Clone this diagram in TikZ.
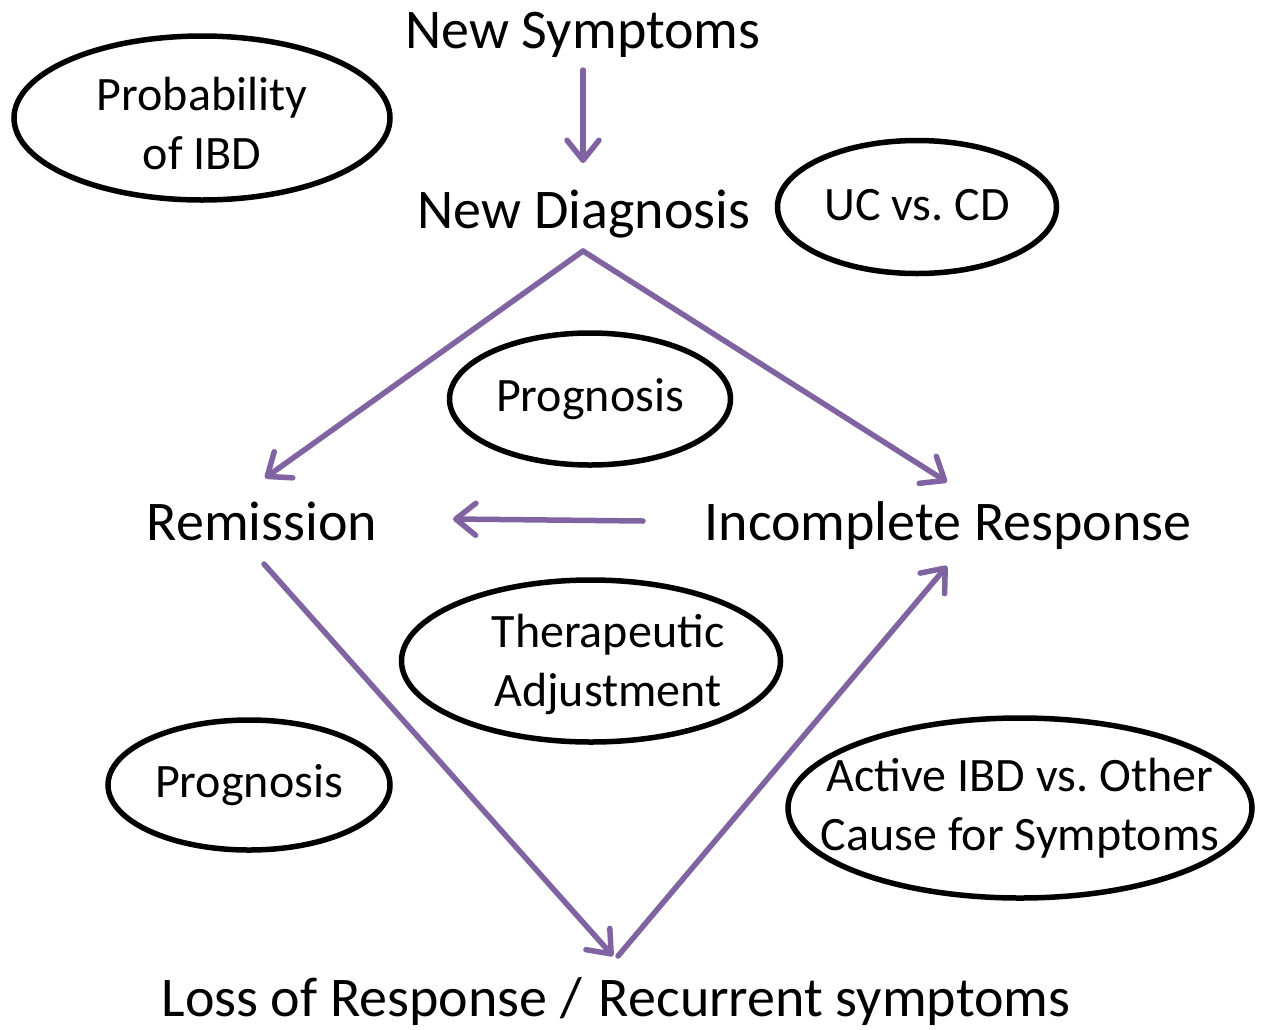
\documentclass[tikz,border=0pt]{standalone}
\usepackage{fontspec}
\setmainfont{Carlito}
\usetikzlibrary{shapes.geometric,arrows.meta}
\definecolor{flowpurple}{HTML}{8064A2}
\frenchspacing
\begin{document}
\begin{tikzpicture}[x=1pt,y=-1pt,
  bigtext/.style={inner sep=0pt,anchor=base,font=\fontsize{56}{67}\selectfont},
  oval/.style={draw=black,line width=5.5pt,ellipse,inner sep=0pt},
  ovaltext/.style={inner sep=0pt,align=center,font=\fontsize{48}{59}\selectfont},
  flow/.style={draw=flowpurple,line width=5.5pt},
  flowarrow/.style={flow,-{Straight Barb[length=20pt,width=32pt,line cap=round,line join=round]},line cap=round}
]
\useasboundingbox (0,0) rectangle (1261,1029);
\fill[white] (0,0) rectangle (1261,1029);

% main labels
\node[bigtext] (ns) at (583,48) {New Symptoms};
\node[bigtext] (nd) at (584,228) {New Diagnosis};
\node[bigtext] (rem) at (262,540) {Remission};
\node[bigtext] (inc) at (948,540) {Incomplete Response};
\node[bigtext] (loss) at (616,1016) {Loss of Response / \hspace{0.08em}Recurrent symptoms};

% ovals
\node[oval,minimum width=376pt,minimum height=164pt,
  label={[ovaltext,yshift=-5pt]center:{Probability\\of IBD}}] (prob) at (202,118) {};
\node[oval,minimum width=279pt,minimum height=133pt,
  label={[ovaltext,yshift=2pt]center:{UC vs. CD}}] (uc) at (917,207) {};
\node[oval,minimum width=281pt,minimum height=132pt,
  label={[ovaltext]center:{Prognosis}}] (prog1) at (590,399) {};
\node[oval,minimum width=379pt,minimum height=162pt,
  label={[ovaltext,xshift=17pt,yshift=-3pt]center:{Therapeutic\\Adjustment}}] (ther) at (591,661) {};
\node[oval,minimum width=282pt,minimum height=130pt,
  label={[ovaltext]center:{Prognosis}}] (prog2) at (249,785) {};
\node[oval,minimum width=464pt,minimum height=180pt,
  label={[ovaltext]center:{Active IBD vs. Other\\Cause for Symptoms}}] (act) at (1020,808) {};

% connector end points
\coordinate (nsEnd) at (583,70);
\coordinate (ndEnd) at (583,163);
\coordinate (top) at (583,251);
\coordinate (remIn) at (265,478);
\coordinate (incIn) at (947,482);
\coordinate (incOut) at (643,521);
\coordinate (remArr) at (453,519);
\coordinate (remOut) at (264,564);
\coordinate (bottom) at (613,956);
\coordinate (bottom2) at (618,956);
\coordinate (incArr) at (947,566);

\draw[flowarrow] (nsEnd) -- (ndEnd);
\draw[flowarrow] (top) -- (remIn);
\draw[flowarrow] (top) -- (incIn);
\draw[flowarrow] (incOut) -- (remArr);
\draw[flowarrow] (remOut) -- (bottom);
\draw[flowarrow] (bottom2) -- (incArr);
\end{tikzpicture}
\end{document}
